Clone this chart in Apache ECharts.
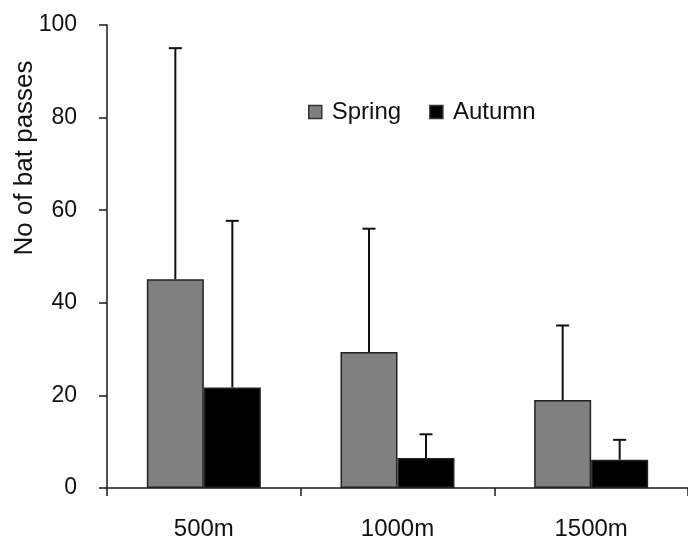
<!DOCTYPE html>
<html>
<head>
<meta charset="utf-8">
<script src="https://cdn.jsdelivr.net/npm/echarts@6/dist/echarts.min.js"></script>
<style>
html,body{margin:0;padding:0;background:#fff;}
#chart{width:688px;height:541px;}
</style>
</head>
<body>
<div id="chart"></div>
<script>
const categories = ['500m', '1000m', '1500m'];
const seriesNames = ['Spring', 'Autumn'];
const springMeans = [45.1, 29.4, 19.0];
const springUpper = [95.0, 56.0, 35.1];
const autumnMeans = [21.7, 6.5, 6.1];
const autumnUpper = [57.7, 11.6, 10.4];
const yTicks = [0, 20, 40, 60, 80, 100];
const yTitle = 'No of bat passes';

const FONT = "'Liberation Sans', Arial, sans-serif";
const BAR_W = 57;
const AXIS_COLOR = '#1a1a1a';

function errorData(means, upper) {
  return categories.map((c, i) => [i, means[i], upper[i]]);
}

function errorRenderer(offset) {
  return function (params, api) {
    const i = api.value(0);
    const base = api.coord([i, api.value(1)]);
    const top = api.coord([i, api.value(2)]);
    const x = base[0] + offset;
    const half = 6.5;
    return {
      type: 'group',
      children: [
        { type: 'line', shape: { x1: x, y1: base[1], x2: x, y2: top[1] },
          style: { stroke: '#111', lineWidth: 2 } },
        { type: 'line', shape: { x1: x - half, y1: top[1], x2: x + half, y2: top[1] },
          style: { stroke: '#111', lineWidth: 2 } }
      ]
    };
  };
}

const chart = echarts.init(document.getElementById('chart'), null, { renderer: 'canvas' });
chart.setOption({
  animation: false,
  backgroundColor: '#fff',
  textStyle: { fontFamily: FONT },
  grid: { left: 107, right: -7, top: 25, bottom: 53, containLabel: false },
  legend: {
    data: seriesNames,
    left: 303,
    top: 95,
    icon: 'rect',
    itemWidth: 13,
    itemHeight: 13,
    itemGap: 28,
    itemStyle: { borderColor: '#333', borderWidth: 1.5 },
    textStyle: { fontFamily: FONT, fontSize: 24, color: '#111', padding: [0, 0, 0, 5] }
  },
  graphic: [{
    type: 'text',
    x: 25, y: 158,
    rotation: Math.PI / 2,
    style: {
      text: yTitle,
      font: "26px 'Liberation Sans', Arial, sans-serif",
      fill: '#111',
      textAlign: 'center',
      textVerticalAlign: 'middle'
    }
  }],
  xAxis: {
    type: 'category',
    data: categories,
    boundaryGap: true,
    axisLine: { lineStyle: { color: AXIS_COLOR, width: 1.5 } },
    axisTick: { show: true, length: 8, inside: false, alignWithLabel: false,
      lineStyle: { color: AXIS_COLOR, width: 1.5 } },
    axisLabel: { fontFamily: FONT, fontSize: 24, color: '#111', margin: 29 },
    splitLine: { show: false }
  },
  yAxis: {
    type: 'value',
    min: yTicks[0],
    max: yTicks[yTicks.length - 1],
    interval: yTicks[1] - yTicks[0],
    axisLine: { show: true, lineStyle: { color: AXIS_COLOR, width: 1.5 } },
    axisTick: { show: true, length: 8, lineStyle: { color: AXIS_COLOR, width: 1.5 } },
    axisLabel: { fontFamily: FONT, fontSize: 23, color: '#111', margin: 30 },
    splitLine: { show: false }
  },
  series: [
    {
      name: seriesNames[0], type: 'bar', data: springMeans,
      barWidth: BAR_W, barGap: '0%',
      itemStyle: { color: '#808080', borderColor: '#222', borderWidth: 1.5 }
    },
    {
      name: seriesNames[1], type: 'bar', data: autumnMeans,
      barWidth: BAR_W, barGap: '0%',
      itemStyle: { color: '#000', borderColor: '#222', borderWidth: 1.5 }
    },
    {
      type: 'custom', name: 'errSpring', data: errorData(springMeans, springUpper),
      renderItem: errorRenderer(-BAR_W / 2), z: 5, silent: true,
      encode: { x: 0, y: [1, 2] }
    },
    {
      type: 'custom', name: 'errAutumn', data: errorData(autumnMeans, autumnUpper),
      renderItem: errorRenderer(BAR_W / 2), z: 5, silent: true,
      encode: { x: 0, y: [1, 2] }
    }
  ]
});
</script>
</body>
</html>
